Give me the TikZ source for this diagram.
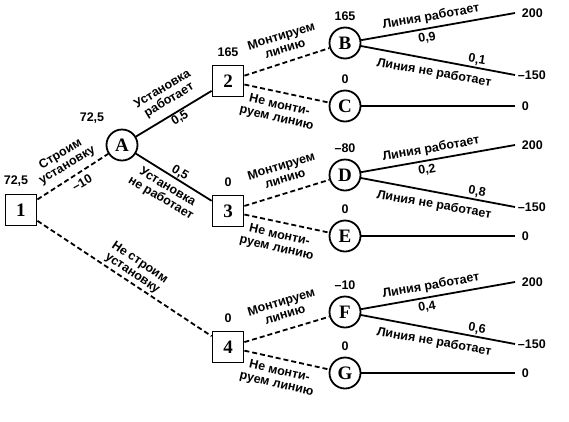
\documentclass[tikz,border=0pt]{standalone}
\usepackage{fontspec}
\setmainfont{Liberation Sans}
\newfontfamily\nodefont{Liberation Serif}
\usetikzlibrary{positioning}

\tikzset{
  decision/.style={draw, line width=1.8pt, minimum size=31pt, inner sep=0pt,
    font=\nodefont\bfseries\fontsize{19}{19}\selectfont},
  chance/.style={circle, draw, line width=1.8pt, minimum size=31pt, inner sep=0pt,
    font=\nodefont\bfseries\fontsize{19}{19}\selectfont},
  act/.style={line width=1.8pt, dash pattern=on 5pt off 3pt},
  outc/.style={line width=1.8pt},
  lbl/.style={font=\bfseries\fontsize{12.5}{13}\selectfont, align=center, inner sep=0pt},
  val/.style={font=\bfseries\fontsize{12.5}{13}\selectfont, inner sep=0pt},
}

\begin{document}
\begin{tikzpicture}[x=1pt,y=-1pt]
  \useasboundingbox (0,0) rectangle (569,421);
  % decision nodes
  \node[decision] (n1) at (21,210) {1};
  \foreach \d/\y in {2/81,3/211,4/347}
    \node[decision] (n\d) at (228,\y) {\d};
  % chance nodes
  \node[chance] (nA) at (122,145) {A};
  \foreach \c/\y in {B/43,C/106,D/175,E/236,F/312,G/373}
    \node[chance] (n\c) at (345,\y) {\c};

  % first decision
  \draw[act] (n1) -- (nA);
  \draw[act] (n1) -- (n4);
  \node[lbl, rotate=30.6] at (64,160) {Строим\\установку};
  \node[val, rotate=30] at (82,183) {--10};
  \node[lbl, rotate=-34] at (136,268) {Не строим\\установку};
  \node[val] at (16,181) {72,5};
  \node[val] at (92,118) {72,5};

  % state of the plant
  \draw[outc] (nA) -- (n2);
  \draw[outc] (nA) -- (n3);
  \node[lbl, rotate=31] at (166,95) {Установка\\работает};
  \node[val, rotate=31] at (180,118) {0,5};
  \node[val, rotate=-31] at (180,173) {0,5};
  \node[lbl, rotate=-31] at (164,193) {Установка\\не работает};

  % second decision
  \foreach \d/\u/\v/\r in {2/B/C/165,3/D/E/0,4/F/G/0}{
    \draw[act] (n\d) -- (n\u);
    \draw[act] (n\d) -- (n\v);
    \node[val, above=8pt of n\d] {\r};
  }
  \foreach \y in {81,211,347}{
    \node[lbl, rotate=17] at (283,\y-39) {Монтируем\\линию};
    \node[lbl, rotate=-13] at (278,\y+31) {Не монти-\\руем линию};
  }

  % line works / fails
  \foreach \u/\y/\r/\p/\q in {B/43/165/{0,9}/{0,1},D/175/--80/{0,2}/{0,8},F/312/--10/{0,4}/{0,6}}{
    \coordinate (t\u1) at (515,\y-30);
    \coordinate (t\u2) at (515,\y+32);
    \draw[outc] (n\u) -- (t\u1) node[val, right=6pt] {200};
    \draw[outc] (n\u) -- (t\u2) node[val, right=2pt] {--150};
    \node[val, above=6pt of n\u] {\r};
    \node[lbl, rotate=10] at (431,\y-26) {Линия работает};
    \node[val, rotate=10] at (427,\y-5) {\p};
    \node[val, rotate=-10] at (477,\y+17) {\q};
    \node[lbl, rotate=-10] at (434,\y+30) {Линия не работает};
  }
  \foreach \u/\y in {C/106,E/236,G/373}{
    \coordinate (t\u) at (515,\y);
    \draw[outc] (n\u) -- (t\u) node[val, right=6pt] {0};
    \node[val, above=6pt of n\u] {0};
  }
\end{tikzpicture}
\end{document}
